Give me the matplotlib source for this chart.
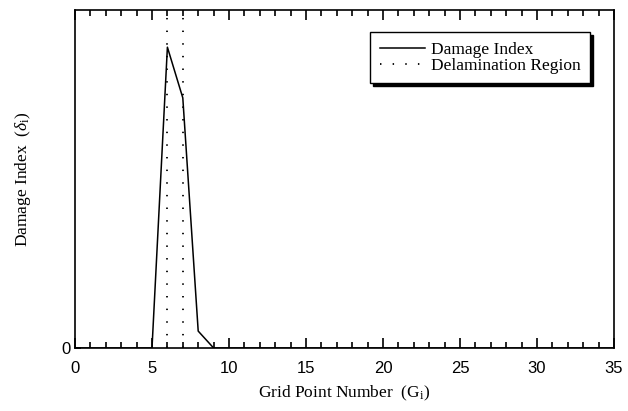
import matplotlib.pyplot as plt
from matplotlib.ticker import MultipleLocator

plt.rcParams["mathtext.fontset"] = "custom"
plt.rcParams["mathtext.rm"] = "Liberation Serif"
plt.rcParams["mathtext.it"] = "Liberation Serif:italic"

# damage index per grid point (normalised)
grid_points = list(range(0, 36))
damage_index = [0.0] * 36
damage_index[6] = 0.89
damage_index[7] = 0.74
damage_index[8] = 0.05

delam_bounds = [6, 7]

fig = plt.figure(figsize=(6.28, 4.11), dpi=100)
ax = fig.add_axes([75 / 628, 63 / 411, 539 / 628, 338 / 411])

ax.plot(grid_points, damage_index, color="black", lw=1.1, label="Damage Index")
for i, xb in enumerate(delam_bounds):
    ax.axvline(xb, color="black", lw=1.3, ls=(0, (0.8, 6.2)),
               label="Delamination Region" if i == 0 else None)

ax.set_xlim(0, 35)
ax.set_ylim(0, 1.0)
ax.xaxis.set_major_locator(MultipleLocator(5))
ax.xaxis.set_minor_locator(MultipleLocator(1))
ax.set_yticks([0])
ax.tick_params(axis="x", which="major", direction="in", length=7, width=1.2,
               top=True, labelsize=12, pad=9)
ax.tick_params(axis="x", which="minor", direction="in", length=4, width=1.2, top=True)
ax.tick_params(axis="y", direction="in", length=4, width=1.2, labelsize=12)
for lab in ax.get_xticklabels() + ax.get_yticklabels():
    lab.set_family("Liberation Sans")
for sp in ax.spines.values():
    sp.set_linewidth(1.2)

ax.set_xlabel(r"Grid Point Number  (G$_{\mathrm{i}}$)", family="Liberation Serif",
              fontsize=12.5, labelpad=6)
ax.set_ylabel(r"Damage Index  ($\delta_{\mathrm{i}}$)", family="Liberation Serif",
              fontsize=12.5, labelpad=20)

leg = ax.legend(loc="upper right", bbox_to_anchor=(0.9555, 0.935), borderaxespad=0,
                frameon=True, fancybox=False, shadow={"color": "black", "alpha": 1.0},
                handlelength=2.6, labelspacing=0.0, handletextpad=0.35,
                borderpad=0.55, prop={"family": "Liberation Serif", "size": 12.5})
leg.get_frame().set_edgecolor("black")
leg.get_frame().set_linewidth(1.0)

fig.savefig("out.png", dpi=100)
